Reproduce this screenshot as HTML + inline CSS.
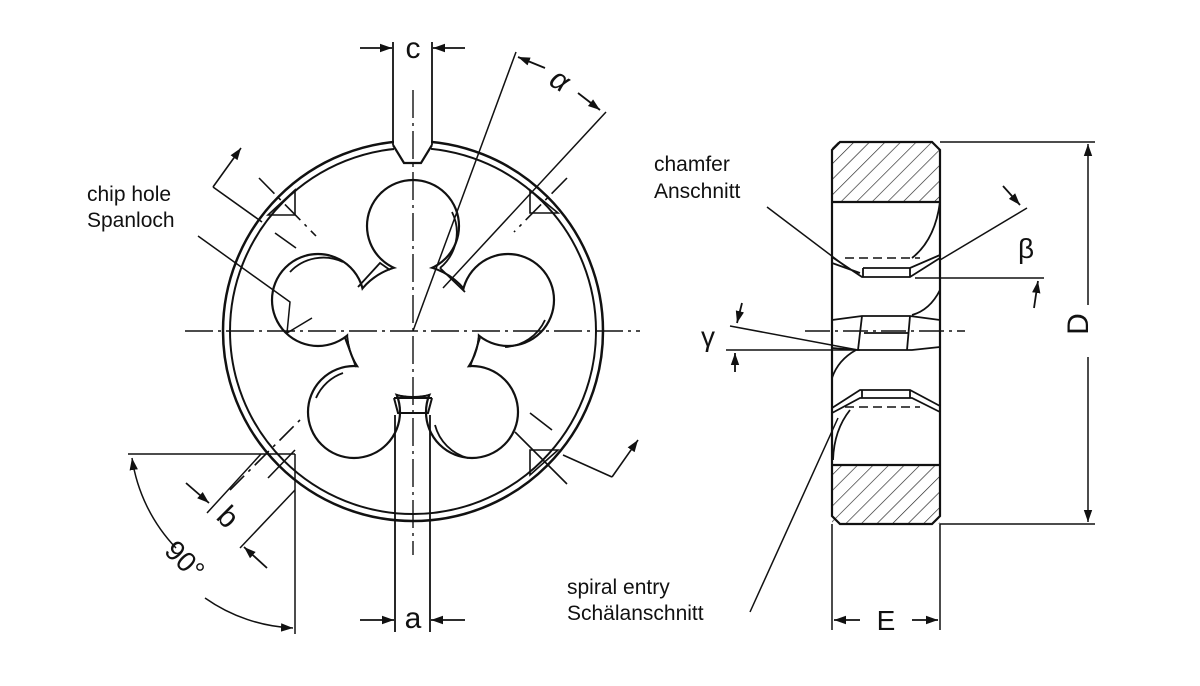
<!DOCTYPE html>
<html><head><meta charset="utf-8"><style>
html,body{margin:0;padding:0;background:#fff;width:1200px;height:686px;overflow:hidden}
svg{display:block}
text{font-family:"Liberation Sans",sans-serif;fill:#111}
</style></head><body>
<svg width="1200" height="686" viewBox="0 0 1200 686" xmlns="http://www.w3.org/2000/svg">
<defs>
<marker id="ar" viewBox="0 0 10 10" refX="10" refY="5" markerWidth="12" markerHeight="12" orient="auto-start-reverse" markerUnits="userSpaceOnUse"><path d="M0,1.5 L10,5 L0,8.5 z" fill="#111"/></marker>
<pattern id="hatch" patternUnits="userSpaceOnUse" width="11" height="11" patternTransform="rotate(45)"><line x1="0" y1="0" x2="0" y2="11" stroke="#222" stroke-width="1.3"/></pattern>
</defs>
<g stroke="#111" fill="none" stroke-width="1.8">
<circle cx="413" cy="331" r="190" stroke-width="2.5"/>
<circle cx="413" cy="331" r="183" stroke-width="2"/>
<rect x="394" y="130" width="37" height="30" fill="#fff" stroke="none"/>
<line x1="393" y1="42" x2="393" y2="145"/><line x1="432" y1="42" x2="432" y2="145"/>
<path d="M393,145 L404,163 L421,163 L432,145" stroke-width="2.2"/>
<circle cx="413" cy="331" r="66" fill="#fff" stroke-width="2.2"/>
<g fill="#fff" stroke-width="2.2">
<circle cx="413" cy="226" r="46"/>
<circle cx="508" cy="300" r="46"/>
<circle cx="472" cy="412" r="46"/>
<circle cx="354" cy="412" r="46"/>
<circle cx="318" cy="300" r="46"/>
</g>
<circle cx="413" cy="331" r="65" fill="#fff" stroke="none"/>
<path d="M452,212 A46,46 0 0 1 440,268" stroke-width="1.8"/>
<path d="M505,347 A46,46 0 0 0 545,320" stroke-width="1.8"/>
<path d="M435,425 A46,46 0 0 0 468,458" stroke-width="1.8"/>
<path d="M316,398 A46,46 0 0 1 343,373" stroke-width="1.8"/>
<path d="M290,272 A46,46 0 0 1 343,262" stroke-width="1.8"/>
<path d="M358,287 L380,263 L390,270" stroke-width="1.8"/>
<path d="M440,268 L465,292" stroke-width="1.8"/>
<path d="M480,338 L470,367" stroke-width="1.8"/>
<path d="M345,338 L356,367" stroke-width="1.8"/>
<line x1="395" y1="415" x2="395" y2="632"/><line x1="430" y1="415" x2="430" y2="632"/>
<path d="M394,398 L432,398 M394,398 L398,413 L428,413 L432,398" stroke-width="2"/>
<line x1="185" y1="331" x2="640" y2="331" stroke-width="1.4" stroke-dasharray="28,5,3,5"/>
<line x1="413" y1="90" x2="413" y2="555" stroke-width="1.4" stroke-dasharray="28,5,3,5"/>
<line x1="360" y1="48" x2="392" y2="48" marker-end="url(#ar)"/>
<line x1="465" y1="48" x2="433" y2="48" marker-end="url(#ar)"/>
<line x1="360" y1="620" x2="394" y2="620" marker-end="url(#ar)"/>
<line x1="465" y1="620" x2="431" y2="620" marker-end="url(#ar)"/>
<line x1="413" y1="331" x2="516" y2="52" stroke-width="1.5"/>
<line x1="443" y1="288" x2="606" y2="112" stroke-width="1.5"/>
<line x1="545" y1="68" x2="518" y2="57" marker-end="url(#ar)"/>
<line x1="578" y1="93" x2="600" y2="110" marker-end="url(#ar)"/>
<path d="M198,236 L290,302 L287,333 M287,333 L312,318" stroke-width="1.5"/>
<g stroke-width="1.6">
<path d="M295,190 L295,215 L268,215 Z"/>
<path d="M213,187 L262,222"/><line x1="213" y1="187" x2="241" y2="148" marker-end="url(#ar)"/>
<path d="M259,178 L316,236" stroke-dasharray="22,6,3,6"/>
<path d="M275,233 L296,248"/>
<path d="M530,190 L530,213 L558,213 Z"/>
<path d="M567,178 L514,232" stroke-dasharray="22,6,3,6"/>
<path d="M530,450 L558,450 L530,475 Z"/>
<path d="M515,432 L567,484"/>
<path d="M530,413 L552,430"/>
<path d="M563,455 L612,477"/><line x1="612" y1="477" x2="638" y2="440" marker-end="url(#ar)"/>
<path d="M295,450 L268,478" />
<path d="M230,490 L300,420" stroke-dasharray="20,6,3,6"/>
</g>
<line x1="128" y1="454" x2="295" y2="454" stroke-width="1.5"/>
<line x1="295" y1="454" x2="295" y2="634" stroke-width="1.5"/>
<path d="M176,548 A165,165 0 0 1 132,458" marker-end="url(#ar)" stroke-width="1.5"/>
<path d="M205,598 A165,165 0 0 0 293,628" marker-end="url(#ar)" stroke-width="1.5"/>
<line x1="261" y1="454" x2="207" y2="513" stroke-width="1.5"/>
<line x1="295" y1="490" x2="240" y2="548" stroke-width="1.5"/>
<line x1="186" y1="483" x2="209" y2="503" marker-end="url(#ar)"/>
<line x1="267" y1="568" x2="244" y2="547" marker-end="url(#ar)"/>
<rect x="832" y="142" width="108" height="60" fill="url(#hatch)" stroke="none"/>
<rect x="832" y="465" width="108" height="59" fill="url(#hatch)" stroke="none"/>
<path d="M840,142 L932,142 L940,150 L940,516 L932,524 L840,524 L832,516 L832,150 Z" stroke-width="2.2"/>
<line x1="832" y1="202" x2="940" y2="202" stroke-width="2.2"/>
<line x1="832" y1="465" x2="940" y2="465" stroke-width="2.2"/>
<path d="M832,257 L862,277 L910,277 L940,258 M832,263 L860,273 M863,268 L910,268 L940,255 M863,268 L863,277 M910,268 L910,277"/>
<line x1="845" y1="258" x2="920" y2="258" stroke-dasharray="9,5" stroke-width="1.5"/>
<path d="M940,202 Q935,240 912,258" />
<path d="M940,290 Q930,310 912,315"/>
<path d="M832,320 L862,316 L910,316 L940,320 M832,348 L858,350 L912,350 L940,347 M862,316 L858,350 M910,316 L907,350 M864,333 L908,333"/>
<path d="M856,350 Q838,360 832,378"/>
<path d="M832,408 L860,390 L910,390 L940,406 M832,413 L860,398 L912,398 L940,412 M862,390 L862,398 M910,390 L910,398"/>
<line x1="845" y1="407" x2="920" y2="407" stroke-dasharray="9,5" stroke-width="1.5"/>
<path d="M850,410 Q834,430 833,460"/>
<line x1="805" y1="331" x2="965" y2="331" stroke-width="1.4" stroke-dasharray="25,5,3,5"/>
<line x1="940" y1="142" x2="1095" y2="142" stroke-width="1.5"/>
<line x1="940" y1="524" x2="1095" y2="524" stroke-width="1.5"/>
<line x1="1088" y1="305" x2="1088" y2="144" marker-end="url(#ar)" stroke-width="1.5"/>
<line x1="1088" y1="357" x2="1088" y2="522" marker-end="url(#ar)" stroke-width="1.5"/>
<line x1="940" y1="260" x2="1027" y2="208" stroke-width="1.5"/>
<line x1="1003" y1="186" x2="1020" y2="205" marker-end="url(#ar)"/>
<line x1="915" y1="278" x2="1044" y2="278" stroke-width="1.5"/>
<line x1="1034" y1="308" x2="1038" y2="281" marker-end="url(#ar)"/>
<line x1="730" y1="326" x2="858" y2="350" stroke-width="1.5"/>
<line x1="726" y1="350" x2="860" y2="350" stroke-width="1.5"/>
<line x1="742" y1="303" x2="737" y2="323" marker-end="url(#ar)"/>
<line x1="735" y1="372" x2="735" y2="353" marker-end="url(#ar)"/>
<line x1="767" y1="207" x2="845" y2="266" stroke-width="1.5"/>
<line x1="750" y1="612" x2="838" y2="418" stroke-width="1.5"/>
<line x1="832" y1="524" x2="832" y2="630" stroke-width="1.5"/>
<line x1="940" y1="524" x2="940" y2="630" stroke-width="1.5"/>
<line x1="860" y1="620" x2="834" y2="620" marker-end="url(#ar)"/>
<line x1="912" y1="620" x2="938" y2="620" marker-end="url(#ar)"/>
</g>
<text x="413" y="58" font-size="30" text-anchor="middle">c</text>
<text x="413" y="628" font-size="30" text-anchor="middle">a</text>
<text x="886" y="630" font-size="28" text-anchor="middle">E</text>
<text x="560" y="90" font-size="30" text-anchor="middle" font-style="italic" transform="rotate(32 560 80)">α</text>
<text x="1026" y="258" font-size="28" text-anchor="middle">β</text>
<text x="708" y="346" font-size="28" text-anchor="middle">γ</text>
<text x="1095" y="331" font-size="30" text-anchor="middle" transform="rotate(-90 1088 331)">D</text>
<text x="228" y="527" font-size="30" text-anchor="middle" transform="rotate(45 228 517)">b</text>
<text x="185" y="570" font-size="28" text-anchor="middle" transform="rotate(45 185 560)">90°</text>
<text x="87" y="201" font-size="21">chip hole</text>
<text x="87" y="227" font-size="21">Spanloch</text>
<text x="654" y="171" font-size="21">chamfer</text>
<text x="654" y="198" font-size="21">Anschnitt</text>
<text x="567" y="594" font-size="21">spiral entry</text>
<text x="567" y="620" font-size="21">Schälanschnitt</text>
</svg>
</body></html>
